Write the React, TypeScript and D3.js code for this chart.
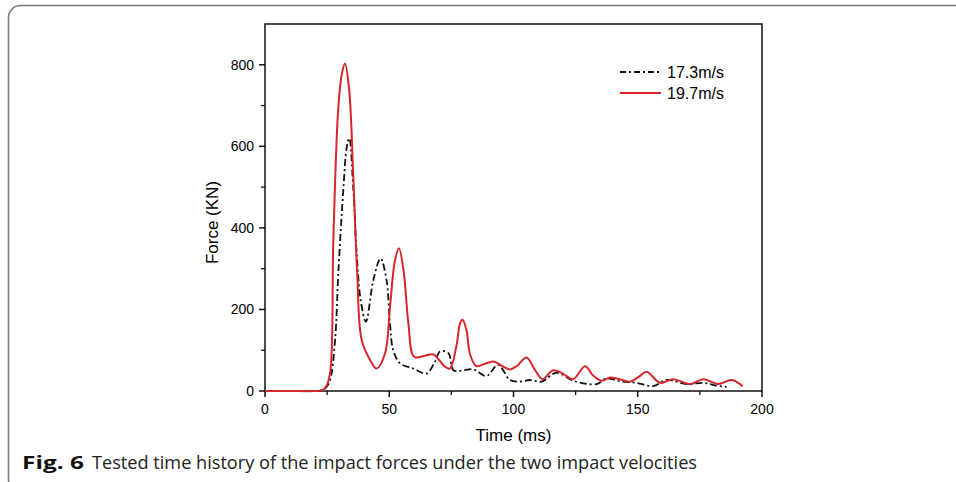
import React from "react";
import * as d3 from "d3";

const W = 956;
const H = 482;

// 19.7 m/s series (time ms, force kN)
const redTime = [0, 10, 20, 23, 24.5, 26.2, 27.5, 29.5, 31, 32.2, 33.9, 35.5, 37.1, 38.9, 42.3, 44.9, 48.3, 50.3, 52.3, 53.9, 55.9, 57.7, 60, 64, 67.7, 69.8, 72, 74.4, 77, 78.5, 79.5, 81.1, 82.5, 85.1, 89.1, 92.2, 95.9, 98.6, 101.5, 105.2, 108.7, 111.7, 116, 120, 124, 128.8, 132, 135.5, 138.8, 142, 146.9, 150.5, 153.6, 159, 164.3, 171, 176.4, 182.4, 187.8, 192.2];
const redForce = [0, 0, 0, 2, 10, 44, 370, 695, 780, 803, 736, 532, 288, 125, 76, 55, 92, 206, 320, 350, 288, 166, 84, 86, 90, 78, 62, 55, 110, 166, 175, 149, 90, 61, 68, 72, 60, 53, 62, 82, 51, 29, 51, 42, 29, 61, 38, 25, 33, 30, 23, 35, 47, 20, 29, 17, 29, 17, 27, 12];

// 17.3 m/s series (time ms, force kN)
const blackTime = [0, 10, 20, 22.8, 24.5, 26.2, 28.2, 29.5, 31.5, 32.9, 33.9, 35.5, 36.9, 38.5, 40.6, 43.6, 46.5, 48.9, 50.3, 51.6, 54.3, 59.7, 65, 68.4, 70.4, 73.8, 75.8, 79, 83.8, 89.1, 93.8, 98.6, 102.6, 106.6, 111.3, 117.4, 124.1, 133.4, 137.4, 143, 149.5, 156.2, 161.6, 169.6, 176.4, 181, 185.8];
const blackForce = [0, 0, 0, 2, 8, 27, 125, 288, 492, 598, 620, 500, 337, 223, 170, 272, 325, 272, 166, 100, 68, 55, 43, 72, 97, 93, 51, 50, 53, 37, 64, 27, 23, 27, 23, 45, 25, 17, 31, 24, 20, 12, 27, 17, 20, 14, 10];

const xTicks = [0, 50, 100, 150, 200];
const xMinor = [25, 75, 125, 175];
const yTicks = [0, 200, 400, 600, 800];
const yMinor = [100, 300, 500, 700];

const seriesNames = ["17.3m/s", "19.7m/s"];

export default function App() {
  const left = 265, right = 762, top = 24, bottom = 391;
  const x = d3.scaleLinear().domain([0, 200]).range([left, right]);
  const y = d3.scaleLinear().domain([0, 900]).range([bottom, top]);
  const line = d3
    .line<[number, number]>()
    .x((d) => x(d[0]))
    .y((d) => y(d[1]))
    .curve(d3.curveCatmullRom.alpha(0.5));
  const redPts = redTime.map((t, i) => [t, redForce[i]] as [number, number]);
  const blackPts = blackTime.map((t, i) => [t, blackForce[i]] as [number, number]);
  const red = "#d6262c";
  const axisFont = "'Liberation Sans', Arial, sans-serif";

  return (
    <svg
      width={W}
      height={H}
      style={{ position: "absolute", left: 0, top: 0, background: "#fff" }}
    >
      <rect x={8.5} y={5.5} width={1000} height={486} rx={12} ry={12} fill="none" stroke="#7a7a7a" strokeWidth={1.6} />

      {/* plot box */}
      <rect x={left} y={top} width={right - left} height={bottom - top} fill="none" stroke="#111" strokeWidth={1.5} />

      {/* y ticks */}
      {yTicks.map((v) => (
        <g key={"y" + v}>
          <line x1={left - 6} x2={left} y1={y(v)} y2={y(v)} stroke="#111" strokeWidth={1.5} />
          <text x={left - 11} y={y(v) + 5} textAnchor="end" fontFamily={axisFont} fontSize={14} fill="#000">
            {v}
          </text>
        </g>
      ))}
      {yMinor.map((v) => (
        <line key={"ym" + v} x1={left - 4} x2={left} y1={y(v)} y2={y(v)} stroke="#111" strokeWidth={1.3} />
      ))}
      {/* x ticks */}
      {xTicks.map((v) => (
        <g key={"x" + v}>
          <line x1={x(v)} x2={x(v)} y1={bottom} y2={bottom + 6} stroke="#111" strokeWidth={1.5} />
          <text x={x(v)} y={bottom + 23} textAnchor="middle" fontFamily={axisFont} fontSize={14} fill="#000">
            {v}
          </text>
        </g>
      ))}
      {xMinor.map((v) => (
        <line key={"xm" + v} x1={x(v)} x2={x(v)} y1={bottom} y2={bottom + 4} stroke="#111" strokeWidth={1.3} />
      ))}

      <text x={(left + right) / 2} y={441} textAnchor="middle" fontFamily={axisFont} fontSize={17} fill="#000">
        Time (ms)
      </text>
      <text
        transform={`translate(218, ${(top + bottom) / 2 + 15}) rotate(-90)`}
        textAnchor="middle"
        fontFamily={axisFont}
        fontSize={17}
        fill="#000"
      >
        Force (KN)
      </text>

      {/* series */}
      <path d={line(blackPts) || ""} fill="none" stroke="#111" strokeWidth={1.8} strokeDasharray="7,3,2,3" />
      <path d={line(redPts) || ""} fill="none" stroke={red} strokeWidth={2} />

      {/* legend */}
      <line x1={620} x2={660} y1={72} y2={72} stroke="#111" strokeWidth={1.8} strokeDasharray="6,3,2,3" />
      <text x={667} y={78} fontFamily={axisFont} fontSize={16} fill="#000">
        {seriesNames[0]}
      </text>
      <line x1={620} x2={661} y1={93} y2={93} stroke={red} strokeWidth={2} />
      <text x={667} y={99} fontFamily={axisFont} fontSize={16} fill="#000">
        {seriesNames[1]}
      </text>

      {/* caption */}
      <text x={22} y={469} fontFamily="'Open Sans', sans-serif" fontSize={18.5} fontWeight={700} fill="#111" textLength={62} lengthAdjust="spacingAndGlyphs">
        Fig. 6
      </text>
      <text x={92} y={469} fontFamily="'Open Sans', sans-serif" fontSize={18.5} fill="#222" textLength={605} lengthAdjust="spacingAndGlyphs">
        Tested time history of the impact forces under the two impact velocities
      </text>
    </svg>
  );
}
